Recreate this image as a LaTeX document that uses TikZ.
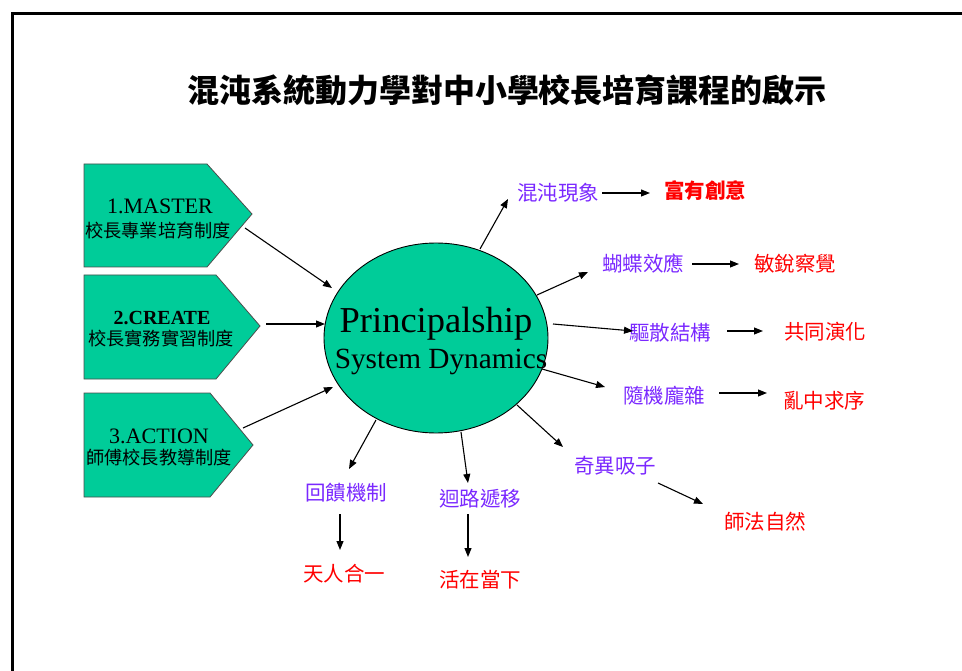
\documentclass[tikz,border=0pt]{standalone}
\usepackage{fontspec}
\setmainfont{Liberation Serif}
\newfontfamily\cjk{Noto Sans CJK TC}
\usetikzlibrary{arrows.meta,shapes.geometric}
\definecolor{teal}{RGB}{0,204,153}
\definecolor{purp}{RGB}{122,40,255}
\definecolor{redt}{RGB}{255,0,0}
\tikzset{
  arr/.style={draw=black, line width=1.1pt, -{Triangle[length=9pt,width=7pt]}},
  boxshape/.style={draw=black!70, line width=0.8pt, fill=teal},
  lvlone/.style={inner sep=0pt, anchor=center, text=purp, font=\cjk\fontsize{20.5}{24}\selectfont},
  lvltwo/.style={inner sep=0pt, anchor=center, text=redt, font=\cjk\fontsize{20.5}{24}\selectfont},
  boxcjk/.style={inner sep=0pt, anchor=center, font=\cjk\fontsize{18.2}{22}\selectfont},
  boxlat/.style={inner sep=0pt, anchor=base, font=\fontsize{22}{26}\selectfont},
}
\begin{document}
\begin{tikzpicture}[x=1pt,y=-1pt]
\useasboundingbox (0,0) rectangle (962,671);
% frame
\draw[line width=3pt] (12,671) -- (12,14) -- (962,14);
% title
\node[inner sep=0pt, font=\cjk\bfseries\fontsize{32}{36}\selectfont] (title) at (507,90) {混沌系統動力學對中小學校長培育課程的啟示};
% pentagon boxes
\draw[boxshape] (84,164) -- (207,164) -- (252,214) -- (207,267) -- (84,267) -- cycle;
\draw[boxshape] (84,275) -- (216,275) -- (260,326) -- (216,379) -- (84,379) -- cycle;
\draw[boxshape] (84,393) -- (210,393) -- (253,445) -- (210,497) -- (84,497) -- cycle;
\node[boxlat] (m1) at (160,214) {1.MASTER};
\node[boxcjk] (m1c) at (158,231) {校長專業培育制度};
\node[boxlat, font=\bfseries\fontsize{20}{24}\selectfont] (m2) at (162,325) {2.CREATE};
\node[boxcjk] (m2c) at (161,339) {校長實務實習制度};
\node[boxlat] (m3) at (159,443) {3.ACTION};
\node[boxcjk] (m3c) at (159,458) {師傅校長教導制度};
% central ellipse
\node[ellipse, draw=black, line width=0.9pt, fill=teal, minimum width=224pt, minimum height=190pt, inner sep=0pt] (ell) at (436,338) {};
\node[inner sep=0pt, anchor=base, font=\fontsize{36.5}{40}\selectfont] (ps) at (436,333) {Principalship};
\node[inner sep=0pt, anchor=base, font=\fontsize{29.3}{32}\selectfont] (sd) at (441,368) {System Dynamics};
% first level
\node[lvlone] (h1) at (558,193) {混沌現象};
\node[lvlone] (h2) at (643,264) {蝴蝶效應};
\node[lvlone] (h3) at (670,333) {驅散結構};
\node[lvlone] (h4) at (664,396) {隨機龐雜};
\node[lvlone] (h5) at (615,466) {奇異吸子};
\node[lvlone] (h6) at (346,493) {回饋機制};
\node[lvlone] (h7) at (480,499) {迴路遞移};
% second level
\node[lvltwo, font=\cjk\bfseries\fontsize{20.5}{24}\selectfont] (r1) at (705,191) {富有創意};
\node[lvltwo] (r2) at (795,264) {敏銳察覺};
\node[lvltwo] (r3) at (825,332) {共同演化};
\node[lvltwo] (r4) at (824,401) {亂中求序};
\node[lvltwo] (r5) at (765,522) {師法自然};
\node[lvltwo] (r6) at (344,574) {天人合一};
\node[lvltwo] (r7) at (480,580) {活在當下};
% connector end points
\coordinate (b1s) at (245,228); \coordinate (b1e) at (332,288);
\coordinate (b2s) at (266,324); \coordinate (b2e) at (325,324);
\coordinate (b3s) at (243,428); \coordinate (b3e) at (333,387);
\coordinate (e1s) at (480,249); \coordinate (e1e) at (508,199);
\coordinate (e2s) at (537,295); \coordinate (e2e) at (588,272);
\coordinate (e3s) at (553,324); \coordinate (e3e) at (633,331);
\coordinate (e4s) at (542,369); \coordinate (e4e) at (605,387);
\coordinate (e5s) at (517,405); \coordinate (e5e) at (563,447);
\coordinate (e6s) at (376,420); \coordinate (e6e) at (349,469);
\coordinate (e7s) at (461,432); \coordinate (e7e) at (468,483);
\coordinate (f1s) at (602,193); \coordinate (f1e) at (650,193);
\coordinate (f2s) at (692,264); \coordinate (f2e) at (739,264);
\coordinate (f3s) at (727,331); \coordinate (f3e) at (763,331);
\coordinate (f4s) at (719,393); \coordinate (f4e) at (767,393);
\coordinate (f5s) at (658,483); \coordinate (f5e) at (703,504);
\coordinate (f6s) at (340,514); \coordinate (f6e) at (340,550);
\coordinate (f7s) at (468,514); \coordinate (f7e) at (468,557);
% connectors
\foreach \c in {b1,b2,b3,e1,e2,e3,e4,e5,e6,e7,f1,f2,f3,f4,f5,f6,f7}
  \draw[arr] (\c s) -- (\c e);
\end{tikzpicture}
\end{document}
